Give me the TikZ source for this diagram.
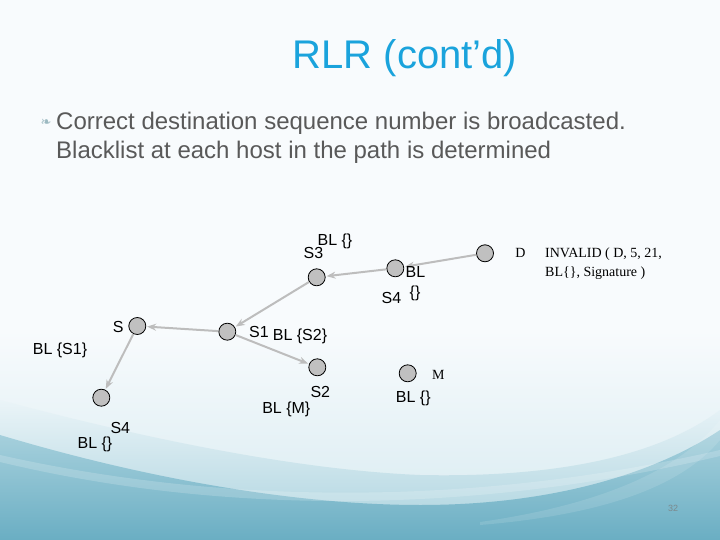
\documentclass[tikz,border=0pt]{standalone}
\usepackage{fontspec}
\setmainfont{Liberation Sans}
\newfontfamily\serifx{Liberation Serif}
\newfontfamily\dejavu{DejaVu Sans}
\usetikzlibrary{arrows.meta}
\definecolor{titleblue}{HTML}{1AA3DC}
\definecolor{bodygray}{HTML}{595959}
\definecolor{arrowgray}{HTML}{BDBDBD}
\definecolor{nodegray}{HTML}{C0C0C0}
\definecolor{teal1}{HTML}{6AAEC3}
\definecolor{teal2}{HTML}{A8D1DD}
\definecolor{teal3}{HTML}{D6EAF0}
\definecolor{bgtop}{HTML}{F8FBFD}
\tikzset{
  host/.style={circle,draw=black,line width=0.8pt,fill=nodegray,minimum size=17pt,inner sep=0pt},
  lbl/.style={font=\fontsize{16}{18}\selectfont,text=black,inner sep=0pt},
  slbl/.style={font=\serifx\fontsize{14}{19}\selectfont,text=black,inner sep=0pt},
  link/.style={draw=arrowgray,line width=2pt,-{Stealth[length=9pt,width=7pt]},shorten >=1pt}
}
\begin{document}
\begin{tikzpicture}[x=1pt,y=-1pt]
\useasboundingbox (0,0) rectangle (720,540);
% background
\fill[bgtop] (0,0) rectangle (720,540);
\shade[top color=bgtop,bottom color=teal3] (0,330) rectangle (720,540);
\shade[top color=teal3!40!bgtop,bottom color=teal2]
  (0,400) .. controls (150,440) and (300,470) .. (420,475) .. controls (560,478) and (660,455) .. (720,410)
  -- (720,540) -- (0,540) -- cycle;
\shade[top color=teal2,bottom color=teal1]
  (0,435) .. controls (150,480) and (300,505) .. (420,505) .. controls (560,505) and (660,470) .. (720,430) -- (720,540) -- (0,540) -- cycle;
\fill[white,opacity=0.18]
  (0,455) .. controls (200,500) and (450,512) .. (720,450) -- (720,456) .. controls (450,520) and (200,510) .. (0,462) -- cycle;
\fill[white,opacity=0.12]
  (480,522) .. controls (600,505) and (680,470) .. (720,420) -- (720,440) .. controls (680,488) and (600,515) .. (480,525) -- cycle;
% title and text
\node[font=\fontsize{40}{46}\selectfont,text=titleblue] (title) at (405,58) {RLR (cont’d)};
\node[font=\dejavu\fontsize{13}{13}\selectfont,text=teal2!70!gray] (bul) at (46,123) {❧};
\node[anchor=west,font=\fontsize{24}{29}\selectfont,text=bodygray,align=left,inner sep=0pt] (body) at (56,138)
  {Correct destination sequence number is broadcasted.\\Blacklist at each host in the path is determined};
% hosts
\node[host] (s3) at (316.7,277.3) {};
\node[host] (s4a) at (395.3,268.3) {};
\node[host] (d) at (485,253.3) {};
\node[host] (s) at (137.3,326) {};
\node[host] (s1) at (227.3,331.7) {};
\node[host] (s2) at (317.3,367.3) {};
\node[host] (s4b) at (101.3,397.7) {};
\node[host] (m) at (407.7,373.3) {};
% links
\draw[link] (d) -- (s4a);
\draw[link] (s4a) -- (s3);
\draw[link] (s3) -- (s1);
\draw[link] (s1) -- (s);
\draw[link] (s) -- (s4b);
\draw[link] (s1) -- (s2);
% labels
\node[lbl] (l1) at (335,241) {BL \{\}};
\node[lbl] (l2) at (313.5,253) {S3};
\node[lbl] (l3) at (415.5,272.3) {BL};
\node[lbl] (l4) at (415,293.3) {\{\}};
\node[lbl] (l5) at (391.5,297.7) {S4};
\node[slbl] (l6) at (520.5,253.3) {D};
\node[slbl,anchor=west,align=left] (l7) at (545,263.5) {INVALID ( D, 5, 21,\\BL\{\}, Signature )};
\node[lbl] (l8) at (118.3,326.7) {S};
\node[lbl] (l9) at (60,350) {BL \{S1\}};
\node[lbl] (l10) at (259,331.7) {S1};
\node[lbl] (l11) at (300,336.7) {BL \{S2\}};
\node[lbl] (l12) at (320.3,391.7) {S2};
\node[lbl] (l13) at (286.3,409.3) {BL \{M\}};
\node[lbl] (l14) at (120.3,428.3) {S4};
\node[lbl] (l15) at (95,444) {BL \{\}};
\node[slbl] (l16) at (438.3,375) {M};
\node[lbl] (l17) at (413.3,398.3) {BL \{\}};
\node[font=\fontsize{9}{9}\selectfont,text=gray!80!teal1] (pg) at (673,508) {32};
\end{tikzpicture}
\end{document}
